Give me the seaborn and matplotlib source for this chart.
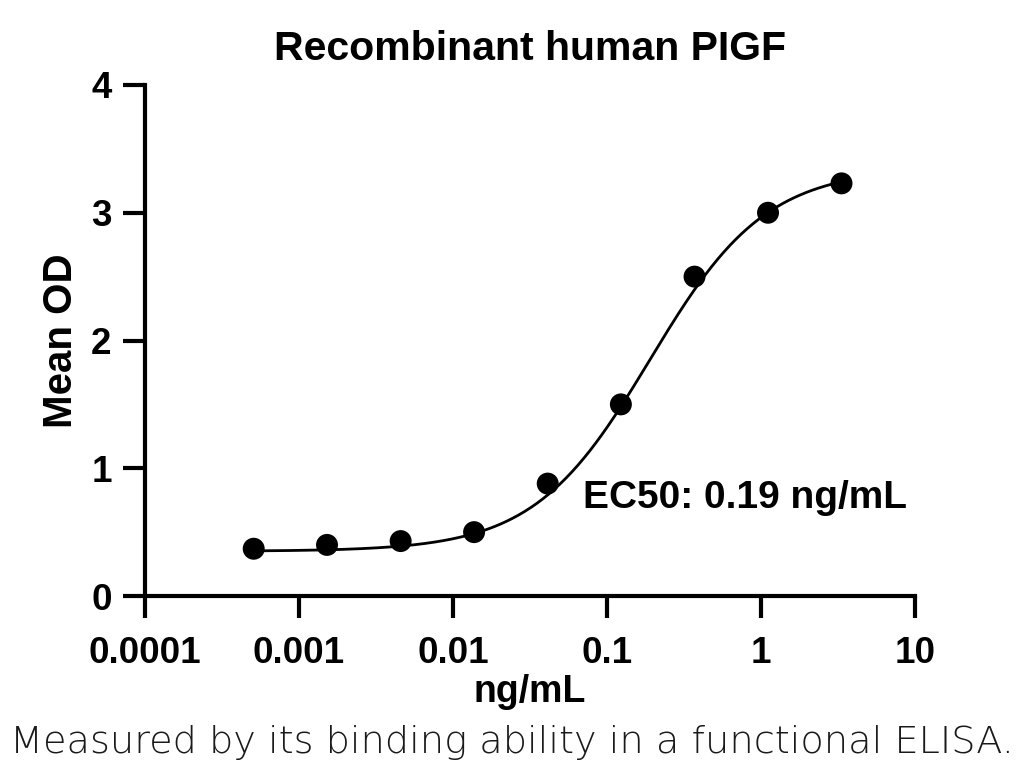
import numpy as np
import pandas as pd
import seaborn as sns
import matplotlib.pyplot as plt

sns.set_style("ticks")
plt.rcParams['font.family'] = ['Liberation Sans', 'DejaVu Sans']
plt.rcParams['text.color'] = 'black'
plt.rcParams['axes.labelcolor'] = 'black'
plt.rcParams['axes.edgecolor'] = 'black'
plt.rcParams['xtick.color'] = 'black'
plt.rcParams['ytick.color'] = 'black'

# measured points (3-fold dilution series)
conc = [0.000508, 0.00152, 0.00457, 0.0137, 0.0412, 0.123, 0.370, 1.11, 3.33]
od = [0.37, 0.40, 0.43, 0.50, 0.88, 1.50, 2.50, 3.00, 3.23]

# 4PL fit parameters
bottom = 0.35
top = 3.35
ec50 = 0.19
hill = 1.15

xfit = np.logspace(np.log10(conc[0]), np.log10(conc[-1]), 300)
yfit = bottom + (top - bottom) / (1 + (ec50 / xfit) ** hill)
pts = pd.DataFrame({'conc': conc, 'od': od})
fit = pd.DataFrame({'conc': xfit, 'od': yfit})

fig = plt.figure(figsize=(10.24, 7.79), dpi=100)
ax = fig.add_axes([0.1416, 0.2349, 0.752, 0.656])

sns.lineplot(data=fit, x='conc', y='od', ax=ax, color='black', lw=2, zorder=2)
sns.scatterplot(data=pts, x='conc', y='od', ax=ax, color='black', s=250,
                edgecolor='none', zorder=3)

ax.set_xscale('log')
ax.set_xlim(1e-4, 10)
ax.set_ylim(0, 4)
ax.set_xticks([1e-4, 1e-3, 1e-2, 1e-1, 1, 10])
ax.set_xticklabels(['0.0001', '0.001', '0.01', '0.1', '1', '10'])
ax.xaxis.set_minor_locator(plt.NullLocator())
ax.set_yticks([0, 1, 2, 3, 4])
ax.set_yticklabels(['0', '1', '2', '3', '4'])

sns.despine(ax=ax)
for s in ['left', 'bottom']:
    ax.spines[s].set_linewidth(3)
ax.tick_params(width=3, length=16, labelsize=26.5, pad=8)
ax.tick_params(axis='x', pad=13)
for lab in ax.get_xticklabels() + ax.get_yticklabels():
    lab.set_fontweight('bold')

ax.set_xlabel('ng/mL', fontsize=27, fontweight='bold', labelpad=2)
ax.set_ylabel('Mean OD', fontsize=29, fontweight='bold', labelpad=8)
ax.set_title('Recombinant human PIGF', fontsize=29.5, fontweight='bold', pad=18)

ax.text(0.0698, 0.77, 'EC50: 0.19 ng/mL', fontsize=28, fontweight='bold',
        va='center', ha='left')

fig.text(0.5, 0.047, 'Measured by its binding ability in a functional ELISA.',
         ha='center', va='center', fontsize=27.5, fontweight='light',
         family=['DejaVu Sans'], color='#1a1a1a')

fig.savefig('out.png', dpi=100, facecolor='white')
